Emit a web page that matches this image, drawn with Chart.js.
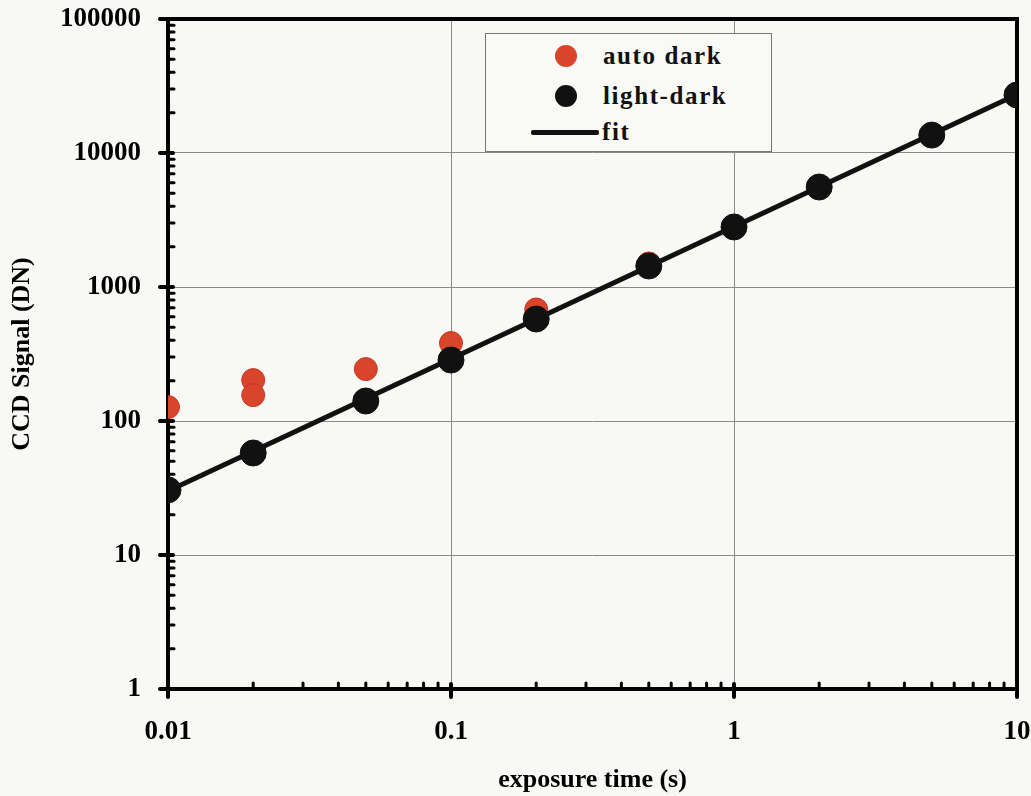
<!DOCTYPE html>
<html>
<head>
<meta charset="utf-8">
<script src="https://cdn.jsdelivr.net/npm/chart.js@4/dist/chart.umd.min.js"></script>
<style>
  html, body { margin: 0; padding: 0; background: #f8f8f4; }
  #wrap { position: relative; width: 1031px; height: 796px; }
  #legend {
    position: absolute; left: 485px; top: 33px; width: 287px; height: 119px;
    border: 1px solid #777; background: #f9f9f6; box-sizing: border-box;
    font-family: 'Liberation Serif', 'Times New Roman', serif; font-weight: bold; font-size: 25px;
    letter-spacing: 1.6px; color: #111;
  }
  .item { position: absolute; left: 0; height: 30px; line-height: 30px; }
  .dot { position: absolute; width: 22px; height: 22px; border-radius: 50%; top: 4px; }
  .lbl { position: absolute; left: 117px; white-space: nowrap; }
  .bar { position: absolute; left: 45px; width: 68px; height: 5px; background: #111; top: 13px; border-radius: 2px; }
</style>
</head>
<body>
<div id="wrap">
  <canvas id="chart" width="1031" height="796"></canvas>
  <div id="legend">
    <div class="item" style="top:7px"><span class="dot" style="left:69px;background:#d9442b"></span><span class="lbl">auto dark</span></div>
    <div class="item" style="top:47px"><span class="dot" style="left:69px;background:#111"></span><span class="lbl">light-dark</span></div>
    <div class="item" style="top:83px"><span class="bar"></span><span class="lbl" style="left:116px">fit</span></div>
  </div>
</div>
<script>
const RED = '#d9442b';
const BLACK = '#111111';
const SERIF = "'Liberation Serif', 'Times New Roman', serif";

// exposure time (s) and signal (DN)
const lightX = [0.01, 0.02, 0.05, 0.1, 0.2, 0.5, 1, 2, 5, 10];
const lightY = [30.6, 57.7, 141, 285, 577, 1435, 2805, 5575, 13600, 27100];
const autoX = [0.01, 0.02, 0.02, 0.05, 0.1, 0.2, 0.5];
const autoY = [127, 202, 156, 244, 382, 680, 1500];
const fitX = [0.01, 10];
const fitY = [30, 27300];
const xTicks = [0.01, 0.1, 1, 10];
const yTicks = [1, 10, 100, 1000, 10000, 100000];

const pts = (xs, ys) => xs.map((x, i) => ({ x, y: ys[i] }));

// frame, major ticks across the axis, minor ticks pointing inward
const framePlugin = {
  id: 'frame',
  beforeDatasetsDraw(chart) {
    const { ctx, chartArea: a, scales: { x, y } } = chart;
    ctx.save();
    ctx.strokeStyle = '#000';
    ctx.lineWidth = 4;
    ctx.strokeRect(a.left, a.top, a.right - a.left, a.bottom - a.top);
    ctx.lineCap = 'round';
    ctx.lineWidth = 3;
    for (let e = -2; e < 1; e++) {
      for (let k = 2; k <= 9; k++) {
        const px = x.getPixelForValue(k * Math.pow(10, e));
        ctx.beginPath(); ctx.moveTo(px, a.bottom); ctx.lineTo(px, a.bottom - 6); ctx.stroke();
      }
    }
    for (let e = 0; e < 5; e++) {
      for (let k = 2; k <= 9; k++) {
        const py = y.getPixelForValue(k * Math.pow(10, e));
        ctx.beginPath(); ctx.moveTo(a.left, py); ctx.lineTo(a.left + 6, py); ctx.stroke();
      }
    }
    ctx.lineWidth = 4;
    xTicks.forEach(v => {
      const px = x.getPixelForValue(v);
      ctx.beginPath(); ctx.moveTo(px, a.bottom - 5); ctx.lineTo(px, a.bottom + 8); ctx.stroke();
    });
    yTicks.forEach(v => {
      const py = y.getPixelForValue(v);
      ctx.beginPath(); ctx.moveTo(a.left - 8, py); ctx.lineTo(a.left + 5, py); ctx.stroke();
    });
    ctx.restore();
  }
};

new Chart(document.getElementById('chart'), {
  data: {
    datasets: [
      {
        type: 'scatter', label: 'light-dark', data: pts(lightX, lightY),
        backgroundColor: BLACK, borderColor: BLACK, pointRadius: 13, pointHoverRadius: 13,
      },
      {
        type: 'line', label: 'fit', data: pts(fitX, fitY),
        borderColor: BLACK, borderWidth: 5, pointRadius: 0, fill: false,
      },
      {
        type: 'scatter', label: 'auto dark', data: pts(autoX, autoY),
        backgroundColor: RED, borderColor: '#c23a24', borderWidth: 1, pointRadius: 11.5, pointHoverRadius: 11.5,
      },
    ],
  },
  options: {
    responsive: false,
    animation: false,
    layout: { padding: { top: 19, right: 14 } },
    plugins: { legend: { display: false }, tooltip: { enabled: false } },
    scales: {
      x: {
        type: 'logarithmic', min: 0.01, max: 10,
        afterBuildTicks: s => { s.ticks = xTicks.map(v => ({ value: v })); },
        afterFit: s => { s.height = 107; s.paddingLeft = 0; s.paddingRight = 0; },
        grid: { color: '#8a8a8a', lineWidth: 1, drawTicks: false },
        border: { display: false },
        ticks: {
          color: '#000', padding: 27, maxRotation: 0, autoSkip: false,
          font: { family: SERIF, size: 27, weight: 'bold' },
          callback: v => String(v),
        },
        title: {
          display: true, text: 'exposure time (s)', color: '#000',
          padding: { top: 0, bottom: 0 },
          font: { family: SERIF, size: 26, weight: 'bold' },
        },
      },
      y: {
        type: 'logarithmic', min: 1, max: 100000,
        afterBuildTicks: s => { s.ticks = yTicks.map(v => ({ value: v })); },
        afterFit: s => { s.width = 168; s.paddingTop = 0; s.paddingBottom = 0; },
        grid: { color: '#8a8a8a', lineWidth: 1, drawTicks: false },
        border: { display: false },
        ticks: {
          color: '#000', padding: 27, autoSkip: false,
          font: { family: SERIF, size: 27, weight: 'bold' },
          callback: v => String(v),
        },
        title: {
          display: true, text: 'CCD Signal (DN)', color: '#000',
          padding: { top: 7, bottom: 0 },
          font: { family: SERIF, size: 26, weight: 'bold' },
        },
      },
    },
  },
  plugins: [framePlugin],
});
</script>
</body>
</html>
